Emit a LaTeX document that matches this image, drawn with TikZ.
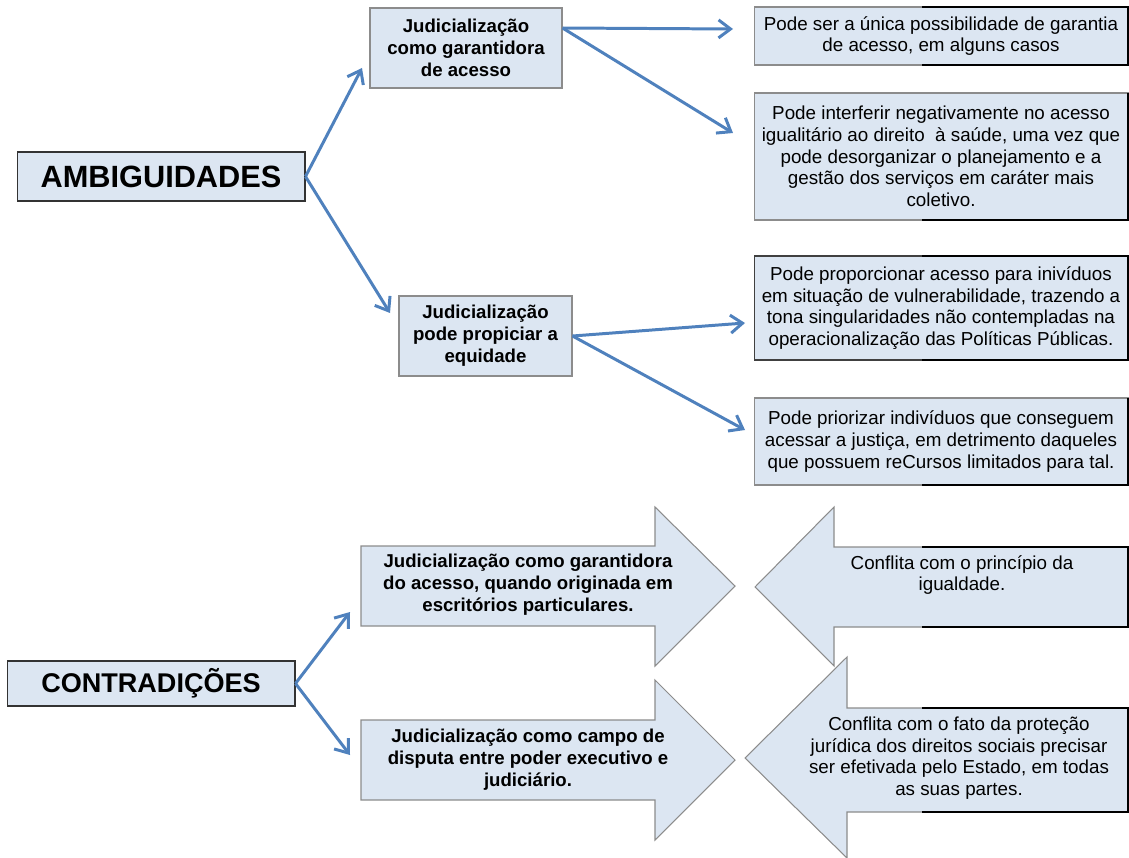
\documentclass[tikz,border=0pt]{standalone}
\usepackage{fontspec}
\setmainfont{Liberation Sans}
\usetikzlibrary{arrows.meta}
\definecolor{boxfill}{HTML}{DCE6F2}
\definecolor{boxline}{HTML}{8C8C8C}
\definecolor{conn}{HTML}{4F81BD}
\tikzset{
  base/.style={draw=boxline, line width=0.6pt, fill=boxfill, inner sep=0pt, align=center},
  head/.style={base, draw=black!80, font=\fontsize{17.5}{20}\selectfont\bfseries},
  judbox/.style={base, font=\fontsize{10.6}{12.5}\selectfont\bfseries},
  txtbox/.style={base, minimum width=7.48cm, font=\fontsize{10.7}{12.3}\selectfont},
  bigarrow/.style={draw=boxline, line width=0.6pt, fill=boxfill},
  arrtxt/.style={align=center, inner sep=0pt},
  darkedge/.style={line width=1.1pt, black},
  link/.style={draw=conn, line width=1.7pt, -{Straight Barb[length=2.4mm,width=3.6mm,line width=1.7pt]}}
}
\begin{document}
\begin{tikzpicture}[x=0.02cm, y=-0.02cm]
\useasboundingbox (0,0) rectangle (1129,858);

% left heading boxes
\node[head, minimum width=5.76cm, minimum height=0.98cm] (amb) at (161,176.5) {AMBIGUIDADES};
\node[head, font=\fontsize{15.4}{18}\selectfont\bfseries, minimum width=5.76cm, minimum height=0.9cm] (con) at (151,683.5) {CONTRADIÇÕES};

% middle boxes
\node[judbox, minimum width=3.84cm, minimum height=1.6cm] (j1) at (466,48) {Judicialização\\como garantidora\\de acesso};
\node[judbox, minimum width=3.46cm, minimum height=1.6cm] (j2) at (485.5,336) {Judicialização\\pode propiciar a\\equidade};

% right boxes
\node[txtbox, minimum height=1.16cm] (r1) at (941,36) {Pode ser a única possibilidade de garantia\\de acesso, em alguns casos};
\node[txtbox, minimum height=2.54cm] (r2) at (941,156.5) {Pode interferir negativamente no acesso\\igualitário ao direito~ à saúde, uma vez que\\pode desorganizar o planejamento e a\\gestão dos serviços em caráter mais\\coletivo.};
\node[txtbox, draw=black!75, minimum height=2.08cm] (r3) at (941,308) {Pode proporcionar acesso para inivíduos\\em situação de vulnerabilidade, trazendo a\\tona singularidades não contempladas na\\operacionalização das Políticas Públicas.};
\node[txtbox, minimum height=1.74cm] (r4) at (941,441.5) {Pode priorizar indivíduos que conseguem\\acessar a justiça, em detrimento daqueles\\que possuem reCursos limitados para tal.};

% dark half edges
\draw[darkedge] (922,7) -- (1128,7) -- (1128,65) -- (922,65);
\draw[darkedge] (922,220) -- (1128,220) -- (1128,93);
\draw[darkedge] (922,256) -- (1128,256) -- (1128,360) -- (922,360);
\draw[darkedge] (922,485) -- (1128,485) -- (1128,398);

% big arrows
\draw[bigarrow] (361,546) -- (655,546) -- (655,507) -- (735,586) -- (655,666) -- (655,626) -- (361,626) -- cycle;
\draw[bigarrow] (361,720) -- (655,720) -- (655,680) -- (735,760) -- (655,840) -- (655,800) -- (361,800) -- cycle;
\draw[bigarrow] (1128,547) -- (834,547) -- (834,507) -- (755,587) -- (834,666) -- (834,627) -- (1128,627) -- cycle;
\draw[darkedge] (922,547) -- (1128,547) -- (1128,627) -- (922,627);
\draw[bigarrow] (1128,708) -- (847,708) -- (847,657) -- (745,758) -- (847,858) -- (847,812) -- (1128,812) -- cycle;
\draw[darkedge] (922,708) -- (1128,708) -- (1128,812) -- (922,812);

\node[arrtxt, font=\fontsize{10.6}{12.5}\selectfont\bfseries] (a1) at (528,585) {Judicialização como garantidora\\do acesso, quando originada em\\escritórios particulares.};
\node[arrtxt, font=\fontsize{10.6}{12.5}\selectfont\bfseries] (a2) at (528,760) {Judicialização como campo de\\disputa entre poder executivo e\\judiciário.};
\node[arrtxt, font=\fontsize{10.7}{12.3}\selectfont] (c1) at (962,575) {Conflita com o princípio da\\igualdade.};
\node[arrtxt, font=\fontsize{10.7}{12.3}\selectfont] (c2) at (959,758) {Conflita com o fato da proteção\\jurídica dos direitos sociais precisar\\ser efetivada pelo Estado, em todas\\as suas partes.};

% connector end points
\coordinate (t1) at (362,68);
\coordinate (t2) at (390,313);
\coordinate (t3) at (733,29);
\coordinate (t4) at (733,133);
\coordinate (t5) at (745,323);
\coordinate (t6) at (745,430);
\coordinate (t7) at (350,612);
\coordinate (t8) at (350,755);

\draw[link] (amb.east) -- (t1);
\draw[link] (amb.east) -- (t2);
\draw[link] ([yshift=0.4cm]j1.east) -- (t3);
\draw[link] ([yshift=0.4cm]j1.east) -- (t4);
\draw[link] (j2.east) -- (t5);
\draw[link] (j2.east) -- (t6);
\draw[link] (con.east) -- (t7);
\draw[link] (con.east) -- (t8);
\end{tikzpicture}
\end{document}
